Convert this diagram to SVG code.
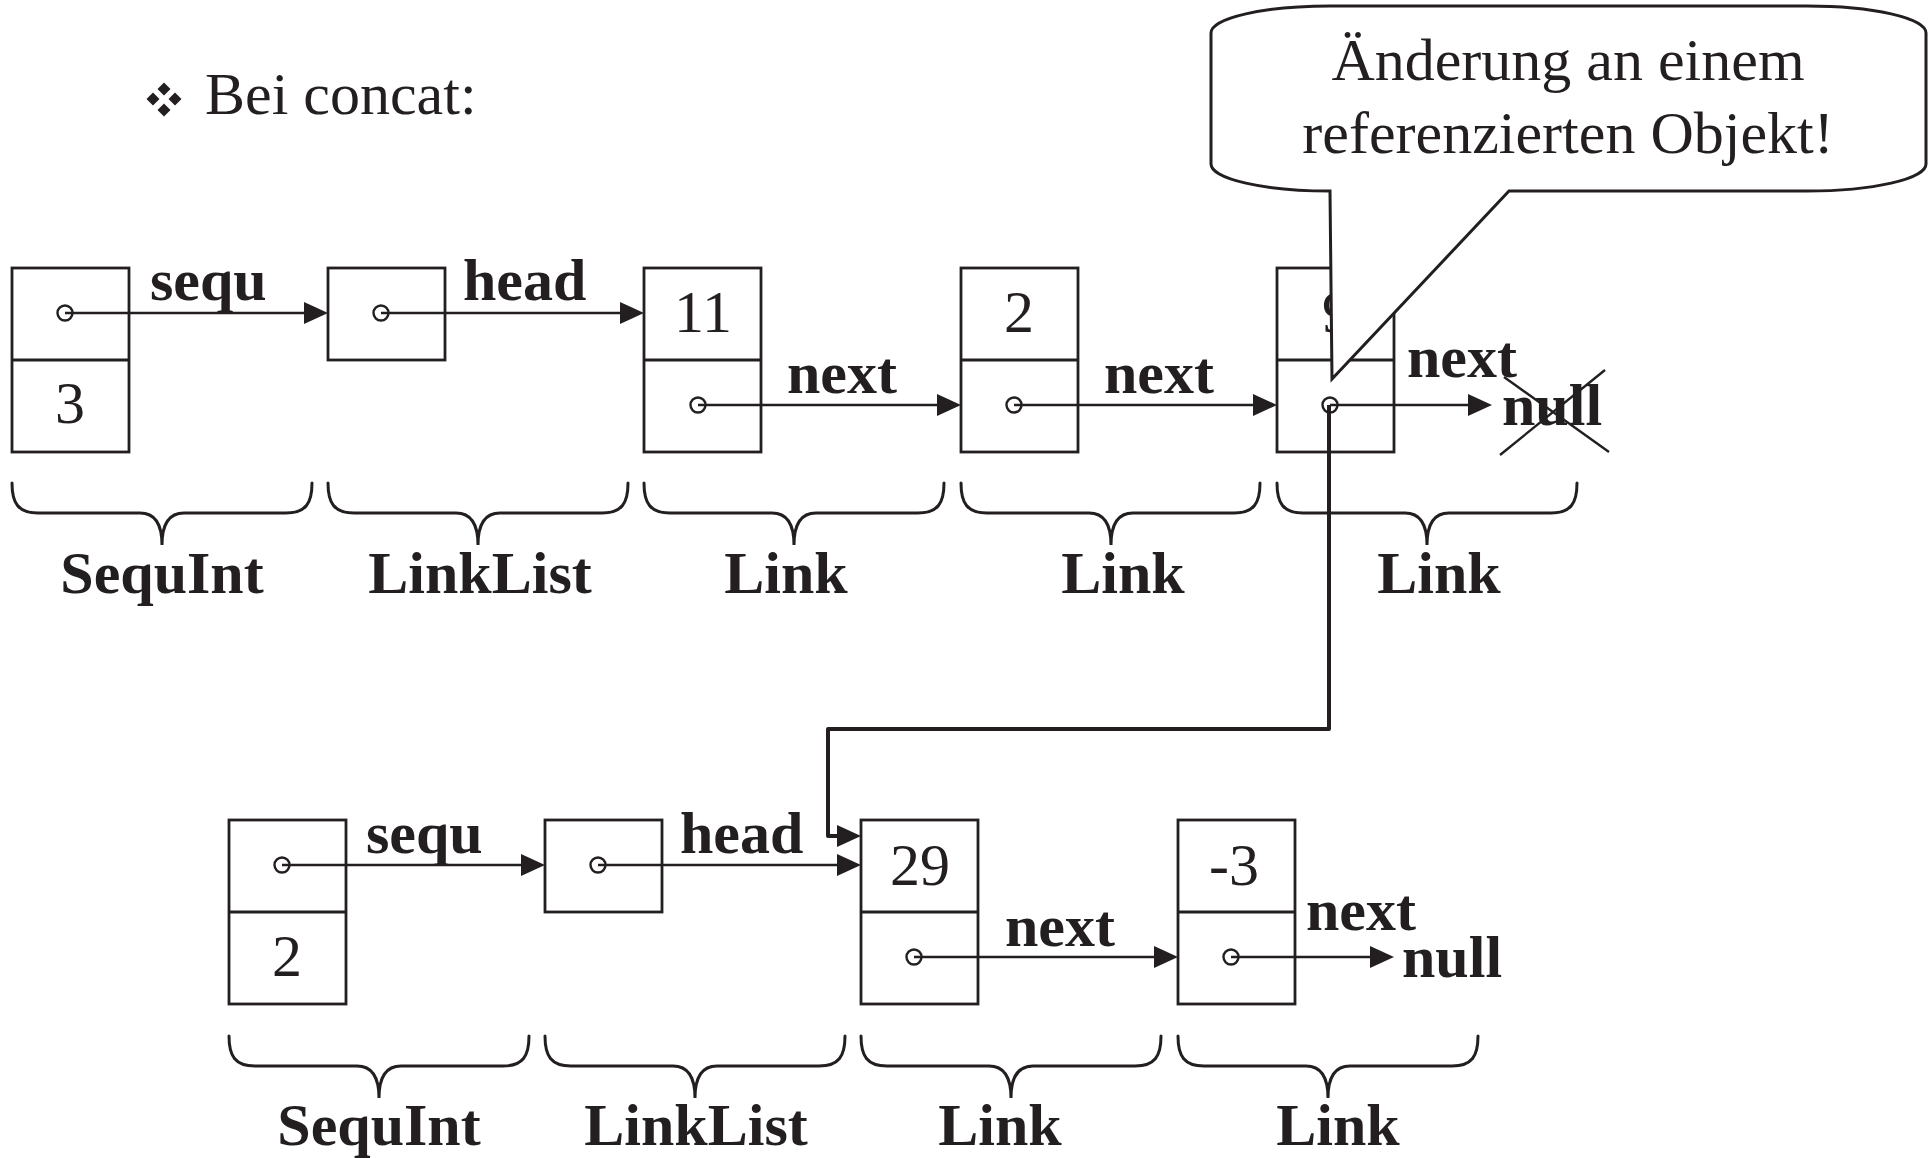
<svg xmlns="http://www.w3.org/2000/svg" width="1928" height="1158" viewBox="0 0 1928 1158">
<defs>
<marker id="ah" markerUnits="userSpaceOnUse" markerWidth="26" markerHeight="24" refX="1" refY="11" orient="auto">
<path d="M0,0 L24,11 L0,22 Z" fill="#231f20"/>
</marker>
</defs>
<style>
.box{fill:#fff;stroke:#231f20;stroke-width:2.8}
.div{stroke:#231f20;stroke-width:2.8}
.ptr{fill:#fff;stroke:#231f20;stroke-width:2.4}
.arr{stroke:#231f20;stroke-width:2.5;fill:none;marker-end:url(#ah)}
.brace{fill:none;stroke:#231f20;stroke-width:3;stroke-linecap:round}
.num{font-family:"Liberation Serif","Times New Roman",serif;font-size:60px;fill:#231f20;text-anchor:middle}
.lbl{font-family:"Liberation Serif","Times New Roman",serif;font-size:60px;font-weight:bold;fill:#231f20}
.cls{font-family:"Liberation Serif","Times New Roman",serif;font-size:60px;font-weight:bold;fill:#231f20;text-anchor:middle}
.reg{font-family:"Liberation Serif","Times New Roman",serif;font-size:60px;fill:#231f20}
</style>
<rect width="1928" height="1158" fill="#fff"/>

<g id="title">
<path d="M153,92.5 L159.5,99 L153,105.5 L146.5,99 Z M164,82.5 L170.5,89 L164,95.5 L157.5,89 Z M175,92.5 L181.5,99 L175,105.5 L168.5,99 Z M164,103.5 L170.5,110 L164,116.5 L157.5,110 Z" fill="#231f20"/>
<text class="reg" x="205" y="114">Bei concat:</text>
</g>

<!-- top row -->
<g id="top-sequint">
<rect class="box" x="12" y="268" width="117" height="184"/>
<line class="div" x1="12" y1="360" x2="129" y2="360"/>
<circle class="ptr" cx="65" cy="313" r="7.5"/>
<text class="num" x="70" y="423">3</text>
</g>
<g id="top-linklist">
<rect class="box" x="328" y="268" width="117" height="92"/>
<circle class="ptr" cx="381" cy="313" r="7.5"/>
</g>
<g id="top-link11">
<rect class="box" x="644" y="268" width="117" height="184"/>
<line class="div" x1="644" y1="360" x2="761" y2="360"/>
<text class="num" x="703" y="332">11</text>
<circle class="ptr" cx="698" cy="405" r="7.5"/>
</g>
<g id="top-link2">
<rect class="box" x="961" y="268" width="117" height="184"/>
<line class="div" x1="961" y1="360" x2="1078" y2="360"/>
<text class="num" x="1019" y="332">2</text>
<circle class="ptr" cx="1014" cy="405" r="7.5"/>
</g>
<g id="top-link9">
<rect class="box" x="1277" y="268" width="117" height="184"/>
<line class="div" x1="1277" y1="360" x2="1394" y2="360"/>
<text class="num" x="1337" y="332">9</text>
<circle class="ptr" cx="1330" cy="405" r="7.5"/>
</g>

<!-- bottom row -->
<g id="bot-sequint">
<rect class="box" x="229" y="820" width="117" height="184"/>
<line class="div" x1="229" y1="912" x2="346" y2="912"/>
<circle class="ptr" cx="282" cy="865" r="7.5"/>
<text class="num" x="287" y="976">2</text>
</g>
<g id="bot-linklist">
<rect class="box" x="545" y="820" width="117" height="92"/>
<circle class="ptr" cx="598" cy="865" r="7.5"/>
</g>
<g id="bot-link29">
<rect class="box" x="861" y="820" width="117" height="184"/>
<line class="div" x1="861" y1="912" x2="978" y2="912"/>
<text class="num" x="920" y="885">29</text>
<circle class="ptr" cx="914" cy="957" r="7.5"/>
</g>
<g id="bot-link-3">
<rect class="box" x="1178" y="820" width="117" height="184"/>
<line class="div" x1="1178" y1="912" x2="1295" y2="912"/>
<text class="num" x="1234" y="885">-3</text>
<circle class="ptr" cx="1231" cy="957" r="7.5"/>
</g>

<g id="connectors">
<path class="arr" d="M65,313 H305"/>
<path class="arr" d="M381,313 H621"/>
<path class="arr" d="M698,405 H938"/>
<path class="arr" d="M1014,405 H1254"/>
<path class="arr" d="M1330,405 H1469"/>
<path class="arr" d="M282,865 H522"/>
<path class="arr" d="M598,865 H838"/>
<path class="arr" d="M914,957 H1155"/>
<path class="arr" d="M1231,957 H1371"/>
<path d="M1329,405 V729 H828 V836 H838" fill="none" stroke="#231f20" stroke-width="4" stroke-linejoin="round" marker-end="url(#ah)"/>
</g>

<g id="edge-labels">
<text class="lbl" x="150" y="300">sequ</text>
<text class="lbl" x="463" y="300">head</text>
<text class="lbl" x="787" y="393">next</text>
<text class="lbl" x="1104" y="393">next</text>
<text class="lbl" x="1407" y="377">next</text>
<text class="lbl" x="1502" y="425">null</text>
<line x1="1500" y1="455" x2="1605" y2="370" stroke="#231f20" stroke-width="2.4"/>
<line x1="1504" y1="377" x2="1609" y2="452" stroke="#231f20" stroke-width="2.4"/>
<text class="lbl" x="366" y="853">sequ</text>
<text class="lbl" x="680" y="853">head</text>
<text class="lbl" x="1005" y="946">next</text>
<text class="lbl" x="1306" y="930">next</text>
<text class="lbl" x="1402" y="977">null</text>
</g>

<g id="braces">
<path class="brace" d="M12,483 C12,503 18,513 38,513 L140,513 C154,513 162,522 162,545 C162,522 170,513 184,513 L286,513 C306,513 312,503 312,483"/>
<path class="brace" d="M328,483 C328,503 334,513 354,513 L456,513 C470,513 478,522 478,545 C478,522 486,513 500,513 L602,513 C622,513 628,503 628,483"/>
<path class="brace" d="M644,483 C644,503 650,513 670,513 L772,513 C786,513 794,522 794,545 C794,522 802,513 816,513 L918,513 C938,513 944,503 944,483"/>
<path class="brace" d="M961,483 C961,503 967,513 987,513 L1089,513 C1103,513 1111,522 1111,545 C1111,522 1119,513 1133,513 L1234,513 C1254,513 1260,503 1260,483"/>
<path class="brace" d="M1277,483 C1277,503 1283,513 1303,513 L1405,513 C1419,513 1427,522 1427,545 C1427,522 1435,513 1449,513 L1551,513 C1571,513 1577,503 1577,483"/>
<path class="brace" d="M229,1036 C229,1056 235,1066 255,1066 L357,1066 C371,1066 379,1075 379,1098 C379,1075 387,1066 401,1066 L503,1066 C523,1066 529,1056 529,1036"/>
<path class="brace" d="M545,1036 C545,1056 551,1066 571,1066 L673,1066 C687,1066 695,1075 695,1098 C695,1075 703,1066 717,1066 L819,1066 C839,1066 845,1056 845,1036"/>
<path class="brace" d="M861,1036 C861,1056 867,1066 887,1066 L989,1066 C1003,1066 1011,1075 1011,1098 C1011,1075 1019,1066 1033,1066 L1135,1066 C1155,1066 1161,1056 1161,1036"/>
<path class="brace" d="M1178,1036 C1178,1056 1184,1066 1204,1066 L1306,1066 C1320,1066 1328,1075 1328,1098 C1328,1075 1336,1066 1350,1066 L1452,1066 C1472,1066 1478,1056 1478,1036"/>
</g>

<g id="class-labels">
<text class="cls" x="162" y="593">SequInt</text>
<text class="cls" x="480" y="593">LinkList</text>
<text class="cls" x="786" y="593">Link</text>
<text class="cls" x="1123" y="593">Link</text>
<text class="cls" x="1439" y="593">Link</text>
<text class="cls" x="379" y="1145">SequInt</text>
<text class="cls" x="696" y="1145">LinkList</text>
<text class="cls" x="1000" y="1145">Link</text>
<text class="cls" x="1338" y="1145">Link</text>
</g>

<g id="callout">
<path d="M1330,6 L1807,6 A119,27 0 0 1 1926,33 L1926,164 A119,27 0 0 1 1807,191 L1509,191 L1332,379 L1330,191 A119,27 0 0 1 1211,164 L1211,33 A119,27 0 0 1 1330,6 Z" fill="#fff" stroke="#231f20" stroke-width="3" stroke-linejoin="miter"/>
<text class="reg" x="1568" y="80" text-anchor="middle">Änderung an einem</text>
<text class="reg" x="1568" y="153" text-anchor="middle">referenzierten Objekt!</text>
</g>
</svg>
